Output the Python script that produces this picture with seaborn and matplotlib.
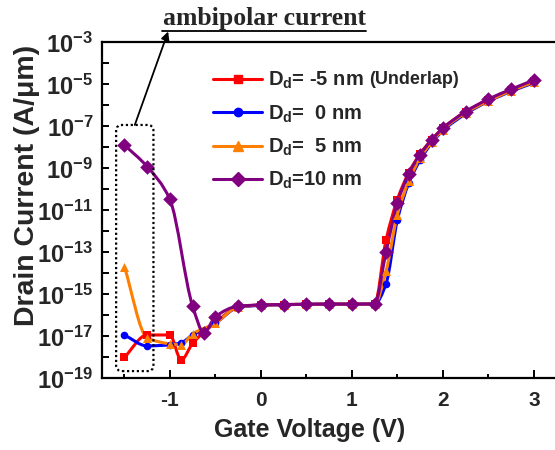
import numpy as np
import matplotlib
matplotlib.use("Agg")
import matplotlib.pyplot as plt
import seaborn as sns
from matplotlib.path import Path
from matplotlib.patches import PathPatch, FancyBboxPatch
from matplotlib.lines import Line2D
from matplotlib.ticker import FuncFormatter, NullFormatter
from matplotlib.transforms import IdentityTransform

# gate voltage (V) and log10 of drain current (A/um)
vg = [-1.5, -1.25, -1.0, -0.875, -0.75, -0.5, -0.25, 0, 0.25, 0.5, 0.75, 1.0, 1.25,
      1.375, 1.5, 1.625, 1.75, 1.875, 2.0, 2.25, 2.5, 2.75, 3.0]
vg_d10 = [-1.5, -1.25, -1.0, -0.75, -0.625, -0.5, -0.25, 0, 0.25, 0.5, 0.75, 1.0, 1.25,
          1.375, 1.5, 1.625, 1.75, 1.875, 2.0, 2.25, 2.5, 2.75, 3.0]

log_id_m5 = [-18.0, -16.93, -16.93, -18.12, -17.33, -16.35, -15.6, -15.5, -15.48, -15.47, -15.46, -15.46, -15.45,
             -12.42, -10.48, -9.2, -8.3, -7.64, -7.08, -6.3, -5.72, -5.25, -4.82]
log_id_0 = [-16.93, -17.45, -17.4, -17.3, -16.93, -16.37, -15.62, -15.52, -15.49, -15.47, -15.46, -15.46, -15.45,
            -14.5, -11.45, -9.7, -8.6, -7.8, -7.2, -6.4, -5.8, -5.33, -4.92]
log_id_5 = [-13.67, -17.06, -17.35, -17.4, -16.88, -16.37, -15.6, -15.51, -15.49, -15.47, -15.46, -15.46, -15.45,
            -13.9, -11.2, -9.6, -8.5, -7.75, -7.15, -6.35, -5.78, -5.3, -4.88]
log_id_10 = [-7.88, -8.91, -10.47, -15.55, -16.82, -16.06, -15.56, -15.5, -15.48, -15.47, -15.46, -15.46, -15.45,
             -12.98, -10.65, -9.25, -8.34, -7.65, -7.09, -6.29, -5.7, -5.23, -4.79]

labels = [r"D$_{d}$= -5 nm", r"D$_{d}$=  0 nm", r"D$_{d}$=  5 nm", r"D$_{d}$=10 nm"]
colors = ["#ff0000", "#0000ff", "#ff8000", "#800080"]
markers = ["s", "o", "^", "D"]

series = [(vg, log_id_m5), (vg, log_id_0), (vg, log_id_5), (vg_d10, log_id_10)]

sns.set_style("ticks")
plt.rcParams["font.family"] = ["Liberation Sans", "DejaVu Sans"]
plt.rcParams["font.weight"] = "bold"
plt.rcParams["mathtext.fontset"] = "custom"
plt.rcParams["mathtext.bf"] = "Liberation Sans:bold"
plt.rcParams["mathtext.rm"] = "Liberation Sans:bold"
plt.rcParams["mathtext.it"] = "Liberation Sans:bold"
plt.rcParams["mathtext.default"] = "bf"
plt.rcParams["axes.unicode_minus"] = False


def smooth_path(x, logy):
    # monotone cubic (bezier) through the points, drawn in log space
    x = np.asarray(x, float)
    y = np.asarray(logy, float)
    h = np.diff(x)
    d = np.diff(y) / h
    m = np.zeros_like(y)
    m[0], m[-1] = d[0], d[-1]
    for k in range(1, len(x) - 1):
        if d[k - 1] * d[k] > 0:
            w1 = 2 * h[k] + h[k - 1]
            w2 = h[k] + 2 * h[k - 1]
            m[k] = (w1 + w2) / (w1 / d[k - 1] + w2 / d[k])
    verts = [(x[0], y[0])]
    codes = [Path.MOVETO]
    for k in range(len(x) - 1):
        verts.append((x[k] + h[k] / 3, y[k] + m[k] * h[k] / 3))
        verts.append((x[k + 1] - h[k] / 3, y[k + 1] - m[k + 1] * h[k] / 3))
        verts.append((x[k + 1], y[k + 1]))
        codes += [Path.CURVE4] * 3
    verts = np.array(verts)
    verts[:, 1] = 10 ** verts[:, 1]
    return Path(verts, codes)


fig = plt.figure(figsize=(5.55, 4.5), dpi=100)
ax = fig.add_axes([0.183, 0.159, 0.82, 0.7467])
ax.set_yscale("log")
ax.set_xlim(-1.75, 3.25)
ax.set_ylim(1e-19, 1e-3)

sizes = [26, 30, 42, 55]
for (x, ly), c, mk, s in zip(series, colors, markers, sizes):
    ax.add_patch(PathPatch(smooth_path(x, ly), fill=False, ec=c, lw=2.2, zorder=2))
    sns.scatterplot(x=x, y=10 ** np.array(ly), marker=mk, s=s, color=c,
                    edgecolor=c, linewidth=0, ax=ax, zorder=3)

# axes styling
for sp in ax.spines.values():
    sp.set_linewidth(1.6)
    sp.set_color("black")
ax.set_yticks([10.0 ** e for e in range(-19, -2, 2)])
ax.set_yticks([10.0 ** e for e in range(-18, -3, 2)], minor=True)
ax.yaxis.set_major_formatter(FuncFormatter(lambda v, p: r"$10^{%d}$" % round(np.log10(v))))
ax.yaxis.set_minor_formatter(NullFormatter())
ax.set_xticks([-1, 0, 1, 2, 3])
ax.set_xticks([-1.5, -0.5, 0.5, 1.5, 2.5], minor=True)
ax.tick_params(which="both", direction="in", width=1.4, color="black")
ax.tick_params(axis="y", which="both", length=5, pad=6, labelsize=17)
ax.tick_params(axis="x", which="major", length=6, pad=9, labelsize=15)
ax.tick_params(axis="x", which="minor", length=3)

ax.set_xlabel("Gate Voltage (V)", fontsize=18, fontweight="bold")
ax.set_ylabel("Drain Current (A/\u03bcm)", fontsize=20.5, fontweight="bold")
ax.xaxis.label.set_va("center")
ax.yaxis.label.set_va("center")
ax.xaxis.set_label_coords(0.458, -0.153)
ax.yaxis.set_label_coords(-0.163, 0.575)

# legend
handles = [Line2D([], [], color=c, marker=mk, lw=2.2, ms=ms, mec=c)
           for c, mk, ms in zip(colors, markers, [6, 6, 7.5, 7])]
ax.legend(handles, labels, loc="upper left", bbox_to_anchor=(0.245, 0.918),
          frameon=False, fontsize=14.5, handlelength=2.45, handletextpad=0.28,
          labelspacing=0.6, borderpad=0, borderaxespad=0)
ax.text(0.587, 0.89, "(Underlap)", transform=ax.transAxes, fontsize=13,
        fontweight="bold", ha="left", va="center")

# dotted box around the ambipolar region
box_x = [-1.59, -1.18]
box_y = [10 ** -18.65, 10 ** -6.93]
(x0, y0), (x1, y1) = ax.transData.transform([(box_x[0], box_y[0]), (box_x[1], box_y[1])])
ax.add_patch(FancyBboxPatch((x0, y0), x1 - x0, y1 - y0, boxstyle="round,pad=0,rounding_size=6",
                            transform=IdentityTransform(), fill=False, ec="black",
                            ls=(0, (1, 1.2)), lw=1.6, zorder=4))

ax.annotate("", xy=(0.303, 0.93), xycoords="figure fraction",
            xytext=(-1.385, box_y[1]), textcoords="data",
            arrowprops=dict(arrowstyle="-|>", color="black", lw=1.3,
                            shrinkA=0, shrinkB=0, mutation_scale=12))
fig.text(0.4757, 1 - 25 / 450, "ambipolar current", ha="center", va="baseline",
         family="Liberation Serif", fontweight="bold", fontsize=18.5)
fig.add_artist(Line2D([162 / 555, 366 / 555], [1 - 30.5 / 450] * 2,
                      transform=fig.transFigure, color="black", lw=1.3))

fig.savefig("out.png", dpi=100)
